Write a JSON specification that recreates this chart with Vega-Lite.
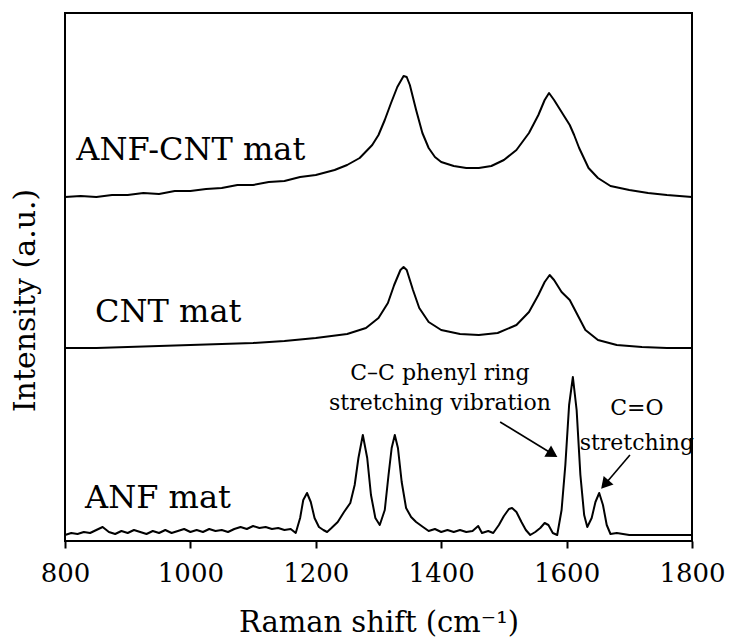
{
  "$schema": "https://vega.github.io/schema/vega-lite/v6.json",
  "width": 627,
  "height": 528,
  "autosize": {"type": "none"},
  "padding": {"left": 65, "top": 13, "right": 41, "bottom": 98},
  "background": "white",
  "config": {
    "view": {"stroke": "black", "strokeWidth": 2},
    "font": "DejaVu Serif",
    "axis": {"grid": false}
  },
  "datasets": {
    "spectra": [
      {"wn": 800, "i": 344, "s": "ANF-CNT"}, {"wn": 825, "i": 345, "s": "ANF-CNT"}, {"wn": 850, "i": 344, "s": "ANF-CNT"}, {"wn": 875, "i": 346, "s": "ANF-CNT"}, {"wn": 900, "i": 346, "s": "ANF-CNT"}, {"wn": 925, "i": 348, "s": "ANF-CNT"}, {"wn": 950, "i": 347, "s": "ANF-CNT"}, {"wn": 975, "i": 350, "s": "ANF-CNT"}, {"wn": 1000, "i": 350, "s": "ANF-CNT"}, {"wn": 1025, "i": 352, "s": "ANF-CNT"}, {"wn": 1050, "i": 353, "s": "ANF-CNT"}, {"wn": 1075, "i": 356, "s": "ANF-CNT"}, {"wn": 1100, "i": 356, "s": "ANF-CNT"}, {"wn": 1125, "i": 359, "s": "ANF-CNT"}, {"wn": 1150, "i": 360, "s": "ANF-CNT"}, {"wn": 1175, "i": 364, "s": "ANF-CNT"}, {"wn": 1200, "i": 366, "s": "ANF-CNT"}, {"wn": 1230, "i": 371, "s": "ANF-CNT"}, {"wn": 1250, "i": 376, "s": "ANF-CNT"}, {"wn": 1270, "i": 383, "s": "ANF-CNT"}, {"wn": 1290, "i": 396, "s": "ANF-CNT"}, {"wn": 1300, "i": 406, "s": "ANF-CNT"}, {"wn": 1310, "i": 421, "s": "ANF-CNT"}, {"wn": 1320, "i": 438, "s": "ANF-CNT"}, {"wn": 1330, "i": 454, "s": "ANF-CNT"}, {"wn": 1340, "i": 465, "s": "ANF-CNT"}, {"wn": 1345, "i": 464, "s": "ANF-CNT"}, {"wn": 1350, "i": 456, "s": "ANF-CNT"}, {"wn": 1360, "i": 431, "s": "ANF-CNT"}, {"wn": 1370, "i": 408, "s": "ANF-CNT"}, {"wn": 1380, "i": 393, "s": "ANF-CNT"}, {"wn": 1390, "i": 384, "s": "ANF-CNT"}, {"wn": 1400, "i": 379, "s": "ANF-CNT"}, {"wn": 1420, "i": 375, "s": "ANF-CNT"}, {"wn": 1440, "i": 373, "s": "ANF-CNT"}, {"wn": 1460, "i": 373, "s": "ANF-CNT"}, {"wn": 1480, "i": 375, "s": "ANF-CNT"}, {"wn": 1500, "i": 381, "s": "ANF-CNT"}, {"wn": 1520, "i": 391, "s": "ANF-CNT"}, {"wn": 1540, "i": 408, "s": "ANF-CNT"}, {"wn": 1555, "i": 426, "s": "ANF-CNT"}, {"wn": 1565, "i": 441, "s": "ANF-CNT"}, {"wn": 1572, "i": 448, "s": "ANF-CNT"}, {"wn": 1580, "i": 441, "s": "ANF-CNT"}, {"wn": 1595, "i": 426, "s": "ANF-CNT"}, {"wn": 1605, "i": 416, "s": "ANF-CNT"}, {"wn": 1612, "i": 406, "s": "ANF-CNT"}, {"wn": 1620, "i": 393, "s": "ANF-CNT"}, {"wn": 1635, "i": 373, "s": "ANF-CNT"}, {"wn": 1650, "i": 363, "s": "ANF-CNT"}, {"wn": 1670, "i": 355, "s": "ANF-CNT"}, {"wn": 1700, "i": 351, "s": "ANF-CNT"}, {"wn": 1730, "i": 348, "s": "ANF-CNT"}, {"wn": 1760, "i": 346, "s": "ANF-CNT"}, {"wn": 1780, "i": 345, "s": "ANF-CNT"}, {"wn": 1800, "i": 344, "s": "ANF-CNT"},

      {"wn": 800, "i": 193, "s": "CNT"}, {"wn": 850, "i": 193, "s": "CNT"}, {"wn": 900, "i": 194, "s": "CNT"}, {"wn": 950, "i": 195, "s": "CNT"}, {"wn": 1000, "i": 196, "s": "CNT"}, {"wn": 1050, "i": 197, "s": "CNT"}, {"wn": 1100, "i": 198, "s": "CNT"}, {"wn": 1150, "i": 200, "s": "CNT"}, {"wn": 1200, "i": 203, "s": "CNT"}, {"wn": 1250, "i": 207, "s": "CNT"}, {"wn": 1280, "i": 213, "s": "CNT"}, {"wn": 1300, "i": 223, "s": "CNT"}, {"wn": 1315, "i": 238, "s": "CNT"}, {"wn": 1325, "i": 256, "s": "CNT"}, {"wn": 1335, "i": 271, "s": "CNT"}, {"wn": 1340, "i": 274, "s": "CNT"}, {"wn": 1345, "i": 271, "s": "CNT"}, {"wn": 1355, "i": 251, "s": "CNT"}, {"wn": 1365, "i": 233, "s": "CNT"}, {"wn": 1380, "i": 219, "s": "CNT"}, {"wn": 1400, "i": 211, "s": "CNT"}, {"wn": 1430, "i": 207, "s": "CNT"}, {"wn": 1460, "i": 206, "s": "CNT"}, {"wn": 1490, "i": 208, "s": "CNT"}, {"wn": 1520, "i": 216, "s": "CNT"}, {"wn": 1540, "i": 229, "s": "CNT"}, {"wn": 1555, "i": 246, "s": "CNT"}, {"wn": 1565, "i": 259, "s": "CNT"}, {"wn": 1573, "i": 266, "s": "CNT"}, {"wn": 1580, "i": 261, "s": "CNT"}, {"wn": 1592, "i": 249, "s": "CNT"}, {"wn": 1605, "i": 241, "s": "CNT"}, {"wn": 1615, "i": 229, "s": "CNT"}, {"wn": 1630, "i": 211, "s": "CNT"}, {"wn": 1650, "i": 201, "s": "CNT"}, {"wn": 1680, "i": 196, "s": "CNT"}, {"wn": 1720, "i": 194, "s": "CNT"}, {"wn": 1760, "i": 193, "s": "CNT"}, {"wn": 1800, "i": 193, "s": "CNT"},

      {"wn": 800, "i": 6, "s": "ANF"}, {"wn": 810, "i": 8, "s": "ANF"}, {"wn": 820, "i": 7, "s": "ANF"}, {"wn": 830, "i": 9, "s": "ANF"}, {"wn": 840, "i": 8, "s": "ANF"}, {"wn": 850, "i": 11, "s": "ANF"}, {"wn": 860, "i": 14, "s": "ANF"}, {"wn": 870, "i": 9, "s": "ANF"}, {"wn": 880, "i": 7, "s": "ANF"}, {"wn": 890, "i": 10, "s": "ANF"}, {"wn": 900, "i": 8, "s": "ANF"}, {"wn": 910, "i": 11, "s": "ANF"}, {"wn": 920, "i": 9, "s": "ANF"}, {"wn": 930, "i": 7, "s": "ANF"}, {"wn": 940, "i": 10, "s": "ANF"}, {"wn": 950, "i": 8, "s": "ANF"}, {"wn": 960, "i": 11, "s": "ANF"}, {"wn": 970, "i": 8, "s": "ANF"}, {"wn": 980, "i": 10, "s": "ANF"}, {"wn": 990, "i": 12, "s": "ANF"}, {"wn": 1000, "i": 9, "s": "ANF"}, {"wn": 1010, "i": 11, "s": "ANF"}, {"wn": 1020, "i": 9, "s": "ANF"}, {"wn": 1030, "i": 12, "s": "ANF"}, {"wn": 1040, "i": 10, "s": "ANF"}, {"wn": 1050, "i": 11, "s": "ANF"}, {"wn": 1060, "i": 9, "s": "ANF"}, {"wn": 1070, "i": 12, "s": "ANF"}, {"wn": 1080, "i": 14, "s": "ANF"}, {"wn": 1090, "i": 12, "s": "ANF"}, {"wn": 1100, "i": 15, "s": "ANF"}, {"wn": 1110, "i": 13, "s": "ANF"}, {"wn": 1120, "i": 14, "s": "ANF"}, {"wn": 1130, "i": 12, "s": "ANF"}, {"wn": 1140, "i": 13, "s": "ANF"}, {"wn": 1150, "i": 11, "s": "ANF"}, {"wn": 1160, "i": 12, "s": "ANF"}, {"wn": 1168, "i": 8, "s": "ANF"}, {"wn": 1175, "i": 23, "s": "ANF"}, {"wn": 1180, "i": 41, "s": "ANF"}, {"wn": 1186, "i": 48, "s": "ANF"}, {"wn": 1192, "i": 39, "s": "ANF"}, {"wn": 1198, "i": 23, "s": "ANF"}, {"wn": 1205, "i": 14, "s": "ANF"}, {"wn": 1212, "i": 11, "s": "ANF"}, {"wn": 1218, "i": 9, "s": "ANF"}, {"wn": 1225, "i": 13, "s": "ANF"}, {"wn": 1235, "i": 19, "s": "ANF"}, {"wn": 1245, "i": 29, "s": "ANF"}, {"wn": 1255, "i": 38, "s": "ANF"}, {"wn": 1262, "i": 56, "s": "ANF"}, {"wn": 1268, "i": 83, "s": "ANF"}, {"wn": 1275, "i": 106, "s": "ANF"}, {"wn": 1282, "i": 83, "s": "ANF"}, {"wn": 1288, "i": 46, "s": "ANF"}, {"wn": 1295, "i": 23, "s": "ANF"}, {"wn": 1302, "i": 16, "s": "ANF"}, {"wn": 1310, "i": 31, "s": "ANF"}, {"wn": 1316, "i": 66, "s": "ANF"}, {"wn": 1321, "i": 93, "s": "ANF"}, {"wn": 1326, "i": 106, "s": "ANF"}, {"wn": 1331, "i": 93, "s": "ANF"}, {"wn": 1337, "i": 59, "s": "ANF"}, {"wn": 1344, "i": 33, "s": "ANF"}, {"wn": 1352, "i": 24, "s": "ANF"}, {"wn": 1360, "i": 19, "s": "ANF"}, {"wn": 1371, "i": 14, "s": "ANF"}, {"wn": 1380, "i": 10, "s": "ANF"}, {"wn": 1390, "i": 12, "s": "ANF"}, {"wn": 1400, "i": 9, "s": "ANF"}, {"wn": 1410, "i": 11, "s": "ANF"}, {"wn": 1420, "i": 9, "s": "ANF"}, {"wn": 1430, "i": 11, "s": "ANF"}, {"wn": 1440, "i": 9, "s": "ANF"}, {"wn": 1450, "i": 10, "s": "ANF"}, {"wn": 1459, "i": 15, "s": "ANF"}, {"wn": 1465, "i": 8, "s": "ANF"}, {"wn": 1475, "i": 10, "s": "ANF"}, {"wn": 1483, "i": 8, "s": "ANF"}, {"wn": 1492, "i": 16, "s": "ANF"}, {"wn": 1500, "i": 25, "s": "ANF"}, {"wn": 1508, "i": 32, "s": "ANF"}, {"wn": 1513, "i": 33, "s": "ANF"}, {"wn": 1520, "i": 29, "s": "ANF"}, {"wn": 1528, "i": 19, "s": "ANF"}, {"wn": 1535, "i": 11, "s": "ANF"}, {"wn": 1542, "i": 6, "s": "ANF"}, {"wn": 1550, "i": 9, "s": "ANF"}, {"wn": 1558, "i": 13, "s": "ANF"}, {"wn": 1565, "i": 18, "s": "ANF"}, {"wn": 1571, "i": 16, "s": "ANF"}, {"wn": 1578, "i": 8, "s": "ANF"}, {"wn": 1585, "i": 6, "s": "ANF"}, {"wn": 1592, "i": 31, "s": "ANF"}, {"wn": 1598, "i": 76, "s": "ANF"}, {"wn": 1604, "i": 136, "s": "ANF"}, {"wn": 1610, "i": 164, "s": "ANF"}, {"wn": 1616, "i": 131, "s": "ANF"}, {"wn": 1622, "i": 66, "s": "ANF"}, {"wn": 1628, "i": 26, "s": "ANF"}, {"wn": 1633, "i": 14, "s": "ANF"}, {"wn": 1640, "i": 23, "s": "ANF"}, {"wn": 1646, "i": 39, "s": "ANF"}, {"wn": 1652, "i": 48, "s": "ANF"}, {"wn": 1658, "i": 36, "s": "ANF"}, {"wn": 1664, "i": 16, "s": "ANF"}, {"wn": 1670, "i": 7, "s": "ANF"}, {"wn": 1680, "i": 8, "s": "ANF"}, {"wn": 1700, "i": 6, "s": "ANF"}, {"wn": 1750, "i": 6, "s": "ANF"}, {"wn": 1800, "i": 6, "s": "ANF"}
    ],
    "labels": [
      {"text": "ANF-CNT mat", "wn": 818, "i": 381},
      {"text": "CNT mat", "wn": 848, "i": 219},
      {"text": "ANF mat", "wn": 832, "i": 33}
    ],
    "notes": [
      {"text": "C–C phenyl ring", "wn": 1398, "i": 161},
      {"text": "stretching vibration", "wn": 1398, "i": 131},
      {"text": "C=O", "wn": 1712, "i": 126},
      {"text": "stretching", "wn": 1712, "i": 91}
    ],
    "arrows": [
      {"id": "a1", "wn": 1494, "i": 119, "wn2": 1575, "i2": 88},
      {"id": "a2", "wn": 1701, "i": 86, "wn2": 1663, "i2": 58}
    ]
  },
  "layer": [
    {
      "data": {"name": "spectra"},
      "mark": {"type": "line", "color": "black", "strokeWidth": 2, "strokeJoin": "round"},
      "encoding": {
        "x": {"field": "wn", "type": "quantitative", "scale": {"domain": [800, 1800], "nice": false},
          "axis": {"values": [800, 1000, 1200, 1400, 1600, 1800], "format": "d", "domain": false, "ticks": true, "tickSize": 7, "tickWidth": 2, "tickColor": "black",
            "labelFont": "DejaVu Serif", "labelFontSize": 26, "labelColor": "black", "labelPadding": 12, "labelFlush": false,
            "title": "Raman shift (cm⁻¹)", "titleFont": "DejaVu Serif", "titleFontSize": 29, "titleFontWeight": "normal", "titleColor": "black",
            "titleY": 90, "titleBaseline": "alphabetic"}},
        "y": {"field": "i", "type": "quantitative", "scale": {"domain": [0, 528], "nice": false},
          "axis": {"domain": false, "ticks": false, "labels": false, "title": "Intensity (a.u.)", "titleFont": "DejaVu Serif", "titleFontSize": 30, "titleFontWeight": "normal", "titleColor": "black",
            "titleAngle": 270, "titleX": -40, "titleY": 287, "titleBaseline": "middle", "titleAlign": "center"}},
        "detail": {"field": "s", "type": "nominal"}
      }
    },
    {
      "data": {"name": "labels"},
      "mark": {"type": "text", "align": "left", "baseline": "alphabetic", "font": "DejaVu Serif", "fontSize": 32, "color": "black"},
      "encoding": {
        "x": {"field": "wn", "type": "quantitative"},
        "y": {"field": "i", "type": "quantitative"},
        "text": {"field": "text"}
      }
    },
    {
      "data": {"name": "notes"},
      "mark": {"type": "text", "align": "center", "baseline": "alphabetic", "font": "DejaVu Serif", "fontSize": 22, "color": "black"},
      "encoding": {
        "x": {"field": "wn", "type": "quantitative"},
        "y": {"field": "i", "type": "quantitative"},
        "text": {"field": "text"}
      }
    },
    {
      "data": {"name": "arrows"},
      "mark": {"type": "rule", "color": "black", "strokeWidth": 1.6},
      "encoding": {
        "x": {"field": "wn", "type": "quantitative"},
        "y": {"field": "i", "type": "quantitative"},
        "x2": {"field": "wn2"},
        "y2": {"field": "i2"}
      }
    },
    {
      "data": {"name": "arrows"},
      "transform": [{"filter": "datum.id === 'a1'"}],
      "mark": {"type": "point", "shape": "triangle", "filled": true, "color": "black", "opacity": 1, "size": 170, "angle": 121},
      "encoding": {
        "x": {"field": "wn2", "type": "quantitative"},
        "y": {"field": "i2", "type": "quantitative"}
      }
    },
    {
      "data": {"name": "arrows"},
      "transform": [{"filter": "datum.id === 'a2'"}],
      "mark": {"type": "point", "shape": "triangle", "filled": true, "color": "black", "opacity": 1, "size": 170, "angle": 221},
      "encoding": {
        "x": {"field": "wn2", "type": "quantitative"},
        "y": {"field": "i2", "type": "quantitative"}
      }
    }
  ]
}
